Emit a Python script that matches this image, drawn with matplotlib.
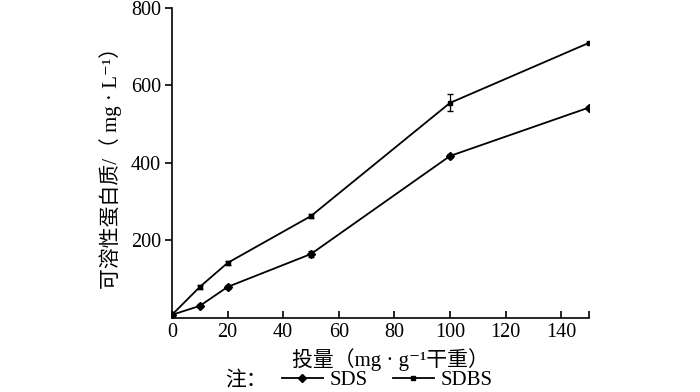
import matplotlib
matplotlib.use('Agg')
import matplotlib.pyplot as plt
from matplotlib.lines import Line2D

plt.rcParams['font.family'] = ['Liberation Serif', 'Noto Sans CJK SC', 'DejaVu Serif']

# data
dose = [0, 10, 20, 50, 100, 150]
sds = [8, 31, 80, 165, 418, 543]
sds_err = [3, 4, 5, 8, 6, 4]
sdbs = [8, 80, 142, 263, 555, 710]
sdbs_err = [3, 5, 6, 5, 22, 3]

fig = plt.figure(figsize=(7, 3.92), dpi=100)
ax = fig.add_axes([0.2457, 0.189, 0.5957, 0.7906])

ax.errorbar(dose, sds, yerr=sds_err, color='black', lw=1.3, marker='D', ms=4.5,
            capsize=2.5, elinewidth=0.9)
ax.errorbar(dose, sdbs, yerr=sdbs_err, color='black', lw=1.3, marker='s', ms=3,
            capsize=2.5, elinewidth=0.9)

ax.set_xlim(0, 150)
ax.set_ylim(0, 800)
ax.set_xticks(list(range(0, 141, 20)) + [150])
ax.set_xticklabels([str(v) for v in range(0, 141, 20)] + [''])
ax.set_yticks([200, 400, 600, 800])
ax.spines['top'].set_visible(False)
ax.spines['right'].set_visible(False)
for s in ['left', 'bottom']:
    ax.spines[s].set_linewidth(1.2)
ax.tick_params(axis='x', direction='in', length=5, width=1.2, labelsize=14.5, pad=4)
ax.tick_params(axis='y', direction='out', length=5, width=1.2, labelsize=14.5, pad=3)

ax.set_xlabel('投量（mg · g⁻¹干重）', fontsize=15)
ax.xaxis.set_label_coords(0.525, -0.098)
ax.set_ylabel('可溶性蛋白质/（ mg · L⁻¹）', fontsize=15, labelpad=6)

fig.text(0.322, 0.028, '注：', fontsize=15, ha='left', va='center')
handles = [Line2D([], [], color='black', lw=1.3, marker='D', ms=4.5),
           Line2D([], [], color='black', lw=1.3, marker='s', ms=3)]
fig.legend(handles, ['SDS', 'SDBS'], loc='center', bbox_to_anchor=(0.553, 0.03), ncol=2,
           frameon=False, fontsize=15, handlelength=2.0, columnspacing=1.2, handletextpad=0.3)

fig.savefig('out.png', dpi=100)
